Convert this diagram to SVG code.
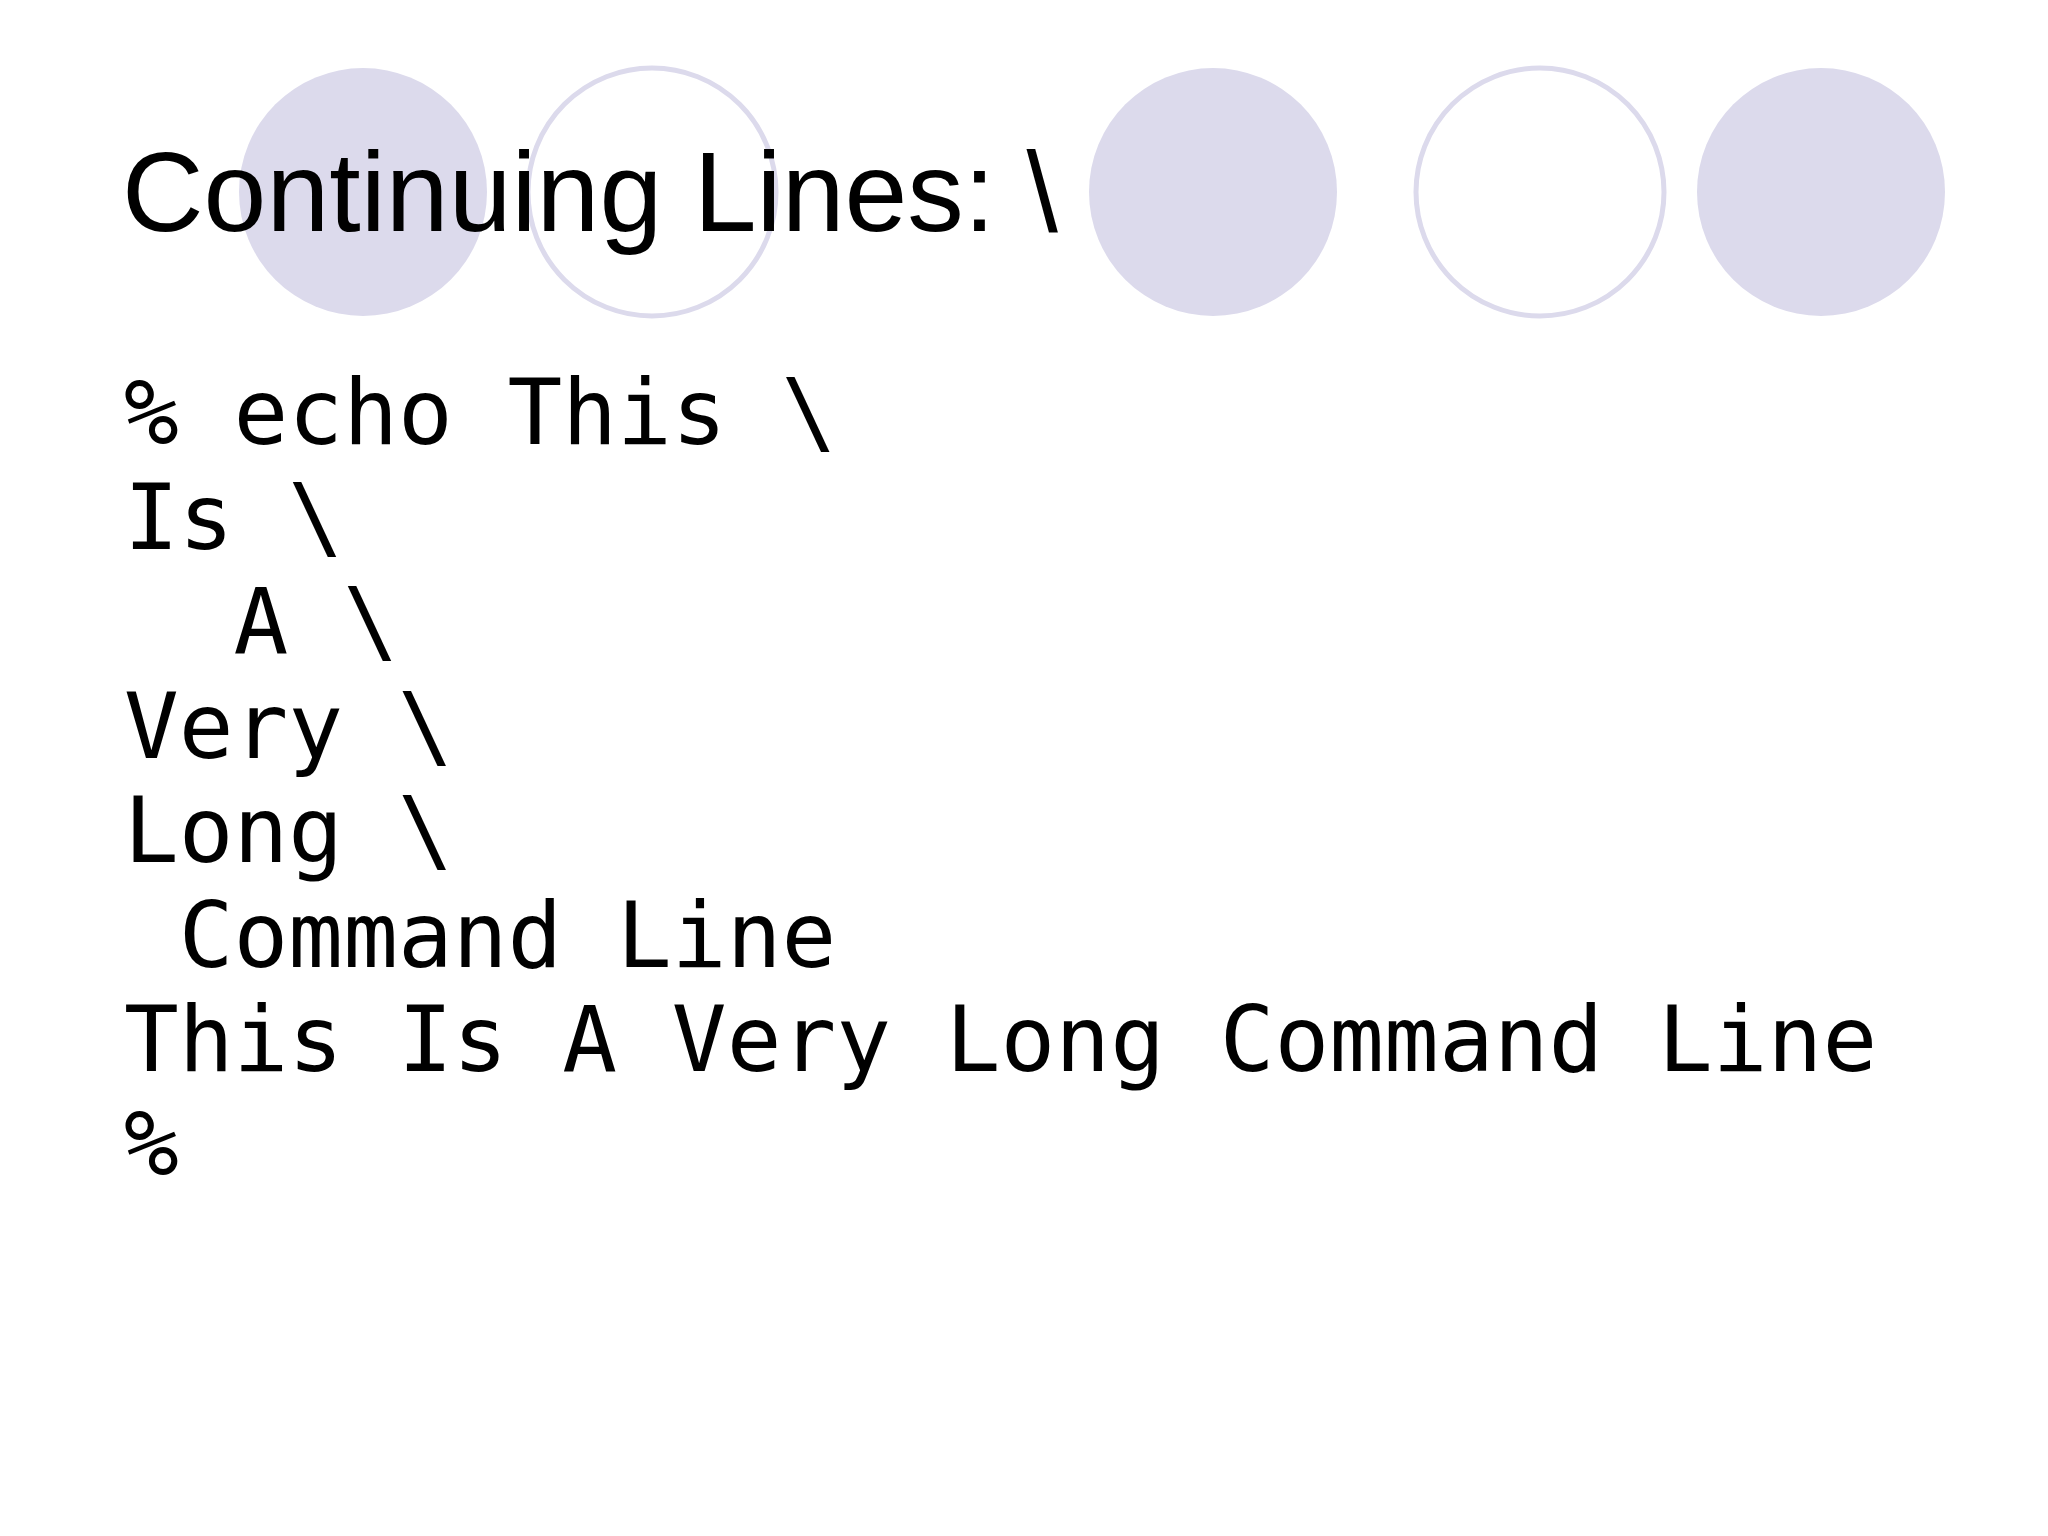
<svg xmlns="http://www.w3.org/2000/svg" width="2048" height="1536" viewBox="0 0 2048 1536">
<style>
.f{fill:#dcdaec}
.o{fill:none;stroke:#dcdaec;stroke-width:5}
.t{font-family:"Liberation Sans",Arial,sans-serif;font-size:113px;fill:#000}
.m{font-family:"DejaVu Sans Mono",monospace;font-size:91px;fill:#000;white-space:pre}
</style>
<rect width="2048" height="1536" fill="#fff"/>
<g id="circles">
<circle class="f" cx="363" cy="192" r="124"/>
<circle class="o" cx="652" cy="192" r="124"/>
<circle class="f" cx="1213" cy="192" r="124"/>
<circle class="o" cx="1540" cy="192" r="124"/>
<circle class="f" cx="1821" cy="192" r="124"/>
</g>
<g id="title"><text class="t" x="122" y="231">Continuing Lines: \</text></g>
<g id="body">
<text class="m" x="124" y="444" xml:space="preserve">% echo This \</text>
<text class="m" x="124" y="549" xml:space="preserve">Is \</text>
<text class="m" x="124" y="653" xml:space="preserve">  A \</text>
<text class="m" x="124" y="758" xml:space="preserve">Very \</text>
<text class="m" x="124" y="862" xml:space="preserve">Long \</text>
<text class="m" x="124" y="967" xml:space="preserve"> Command Line</text>
<text class="m" x="124" y="1071" xml:space="preserve">This Is A Very Long Command Line</text>
<text class="m" x="124" y="1175" xml:space="preserve">%</text>
</g>
</svg>
